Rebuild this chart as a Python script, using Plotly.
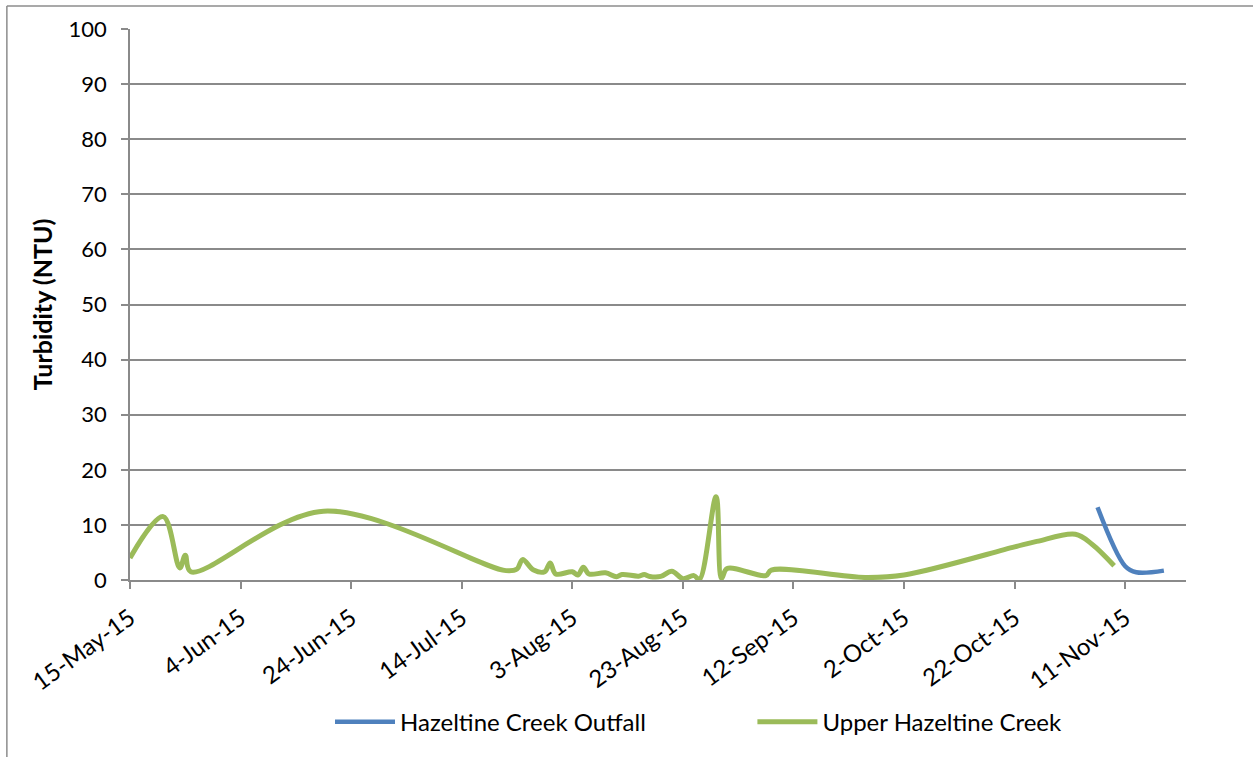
import plotly.graph_objects as go

upper_dates = ["2015-05-15", "2015-05-21", "2015-05-24", "2015-05-25", "2015-05-26",
               "2015-06-19", "2015-07-22", "2015-07-24", "2015-07-25", "2015-07-27",
               "2015-07-29", "2015-07-30", "2015-07-31", "2015-08-03", "2015-08-04",
               "2015-08-05", "2015-08-06", "2015-08-09", "2015-08-11", "2015-08-12",
               "2015-08-15", "2015-08-16", "2015-08-17", "2015-08-19", "2015-08-21",
               "2015-08-23", "2015-08-25", "2015-08-26", "2015-08-29", "2015-08-30",
               "2015-08-31", "2015-09-07", "2015-09-08", "2015-09-25", "2015-10-02",
               "2015-10-22", "2015-10-26", "2015-11-02", "2015-11-05", "2015-11-09"]
upper_vals = [4.0, 11.5, 2.2, 4.5, 1.5,
              12.5, 1.7, 2.0, 3.7, 1.8,
              1.5, 3.1, 1.1, 1.5, 0.9,
              2.3, 1.1, 1.3, 0.6, 1.0,
              0.7, 1.0, 0.65, 0.65, 1.6,
              0.25, 0.8, 0.1, 15.1, 0.3,
              2.1, 0.8, 1.8, 0.45, 0.9,
              6.0, 7.0, 8.3, 6.5, 2.6]

outfall_dates = ["2015-11-06", "2015-11-11", "2015-11-13", "2015-11-18"]
outfall_vals = [13.2, 2.5, 1.4, 1.7]

tick_dates = ["2015-05-15", "2015-06-04", "2015-06-24", "2015-07-14", "2015-08-03",
              "2015-08-23", "2015-09-12", "2015-10-02", "2015-10-22", "2015-11-11"]
tick_labels = ["15-May-15", "4-Jun-15", "24-Jun-15", "14-Jul-15", "3-Aug-15",
               "23-Aug-15", "12-Sep-15", "2-Oct-15", "22-Oct-15", "11-Nov-15"]

FONT = "Lato"
GRID = "#8a8a8a"

fig = go.Figure()
fig.add_trace(go.Scatter(x=outfall_dates, y=outfall_vals, mode="lines",
                         name="Hazeltine Creek Outfall", legend="legend",
                         line=dict(color="#4F81BD", width=4.5, shape="spline", smoothing=1)))
fig.add_trace(go.Scatter(x=upper_dates, y=upper_vals, mode="lines",
                         name="Upper Hazeltine Creek", legend="legend2",
                         line=dict(color="#9BBB59", width=5, shape="spline", smoothing=1)))

leg_font = dict(family=FONT, size=24, color="black")
fig.update_layout(
    width=1253, height=757,
    margin=dict(l=130, r=67, t=29, b=177),
    paper_bgcolor="white", plot_bgcolor="white",
    font=dict(family=FONT, size=22, color="black"),
    showlegend=True,
    legend=dict(x=0.1894, xanchor="left", y=-0.258, yanchor="middle",
                font=leg_font, itemwidth=60, bgcolor="rgba(0,0,0,0)"),
    legend2=dict(x=0.5894, xanchor="left", y=-0.258, yanchor="middle",
                 font=leg_font, itemwidth=60, bgcolor="rgba(0,0,0,0)"),
    shapes=[
        dict(type="line", xref="paper", yref="paper", x0=-0.1166, x1=-0.1166,
             y0=1.0417, y1=-0.4, line=dict(color="#8c8c8c", width=1.5)),
        dict(type="line", xref="paper", yref="paper", x0=-0.1166, x1=1.08,
             y0=1.0417, y1=1.0417, line=dict(color="#8c8c8c", width=1.5)),
    ],
)

fig.update_xaxes(
    type="date", range=["2015-05-15", "2015-11-22"], automargin=False,
    tickvals=tick_dates, ticktext=tick_labels, tickangle=-36,
    ticks="outside", ticklen=7, tickcolor=GRID, tickwidth=1.5,
    ticklabelstandoff=6,
    showgrid=False, showline=True, linecolor=GRID, linewidth=1.5,
    tickfont=dict(family=FONT, size=24, color="black"),
)
fig.update_yaxes(
    range=[0, 100], dtick=10, tick0=0, automargin=False,
    ticks="outside", ticklen=7, tickcolor=GRID, tickwidth=1.5,
    ticklabelstandoff=10,
    showgrid=True, gridcolor=GRID, gridwidth=1.5,
    showline=True, linecolor=GRID, linewidth=1.5, zeroline=False,
    tickfont=dict(family=FONT, size=22, color="black"),
    title=dict(text="<b>Turbidity (NTU)</b>", font=dict(family=FONT, size=25, color="black"),
               standoff=9),
)

fig.write_html("out.html")
